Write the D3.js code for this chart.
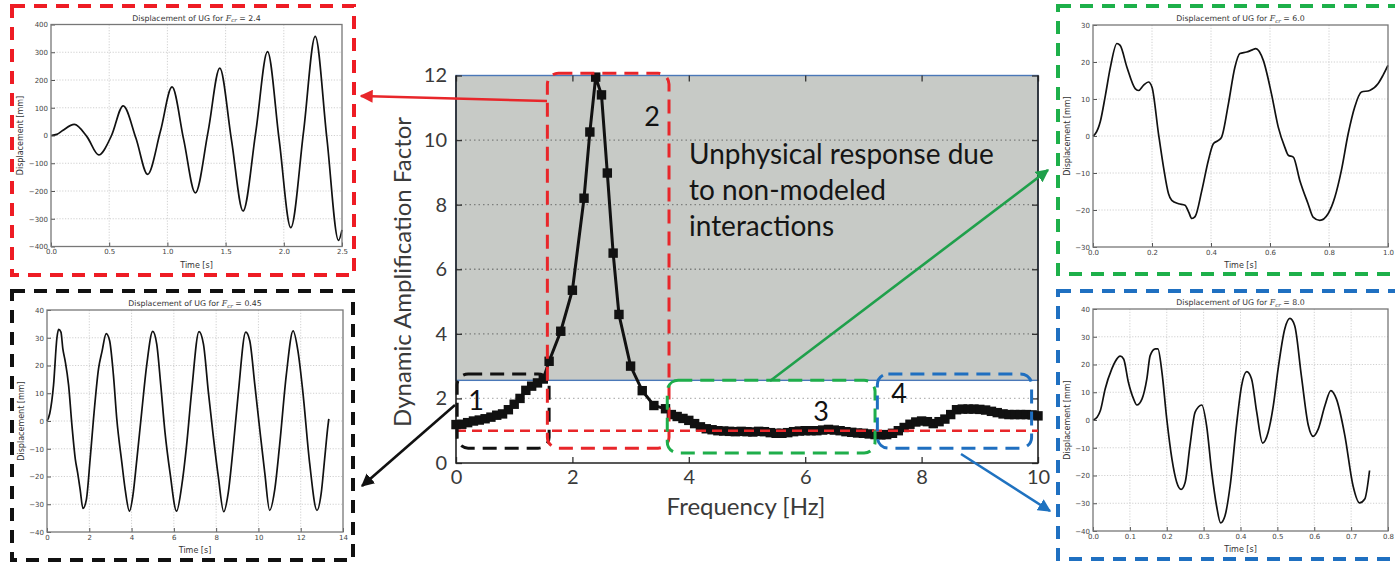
<!DOCTYPE html>
<html>
<head>
<meta charset="utf-8">
<script src="https://cdn.jsdelivr.net/npm/d3@7"></script>
<style>
  body { margin: 0; background: #fff; }
  svg { display: block; }
</style>
</head>
<body>
<svg id="fig" width="1395" height="563"></svg>
<script>
// ---- main chart data ----
const mainFreq = [0.0,0.1,0.2,0.3,0.4,0.5,0.6,0.7,0.8,0.9,1.0,1.1,1.2,1.3,1.4,1.5,1.6,1.8,2.0,2.2,2.3,2.4,2.5,2.6,2.7,2.8,3.0,3.2,3.4,3.6,
  3.7,3.8,3.9,4.0,4.1,4.2,4.3,4.4,4.5,4.6,4.7,4.8,4.9,5.0,5.1,5.2,5.3,5.4,5.5,5.6,5.7,5.8,5.9,6.0,6.1,6.2,6.3,6.4,6.5,6.6,6.7,6.8,6.9,7.0,
  7.1,7.2,7.3,7.4,7.5,7.6,7.7,7.8,7.9,8.0,8.1,8.2,8.3,8.4,8.5,8.6,8.7,8.8,8.9,9.0,9.1,9.2,9.3,9.4,9.5,9.6,9.7,9.8,9.9,10.0];
const mainDaf = [1.19,1.2,1.25,1.3,1.33,1.37,1.42,1.48,1.52,1.65,1.82,2.0,2.25,2.38,2.48,2.6,3.15,4.08,5.35,8.2,10.25,11.95,11.4,8.98,6.5,4.6,3.0,2.24,1.78,1.68,
  1.5,1.44,1.38,1.32,1.22,1.12,1.06,1.03,1.0,0.99,0.98,0.97,0.98,0.97,0.96,0.98,0.97,0.94,0.92,0.92,0.94,0.97,0.99,1.0,1.0,1.0,1.02,1.04,1.02,1.0,0.97,0.95,0.93,0.92,
  0.9,0.88,0.87,0.88,0.92,1.0,1.1,1.2,1.27,1.3,1.28,1.22,1.28,1.36,1.5,1.65,1.67,1.67,1.67,1.66,1.64,1.6,1.56,1.52,1.5,1.5,1.5,1.5,1.49,1.46];
const mainXTicks = [0, 2, 4, 6, 8, 10];
const mainYTicks = [0, 2, 4, 6, 8, 10, 12];
const grayFloor = 2.56;      // lower edge of the shaded "unphysical" band
const unityLevel = 1.0;      // red dashed reference line

// marked regions [f0, f1, v0, v1]
const regionNames = ['1', '2', '3', '4'];
const regionBoxes = [[0.02, 1.6, 0.46, 2.76], [1.57, 3.66, 0.46, 12.07], [3.63, 7.2, 0.31, 2.56], [7.24, 9.89, 0.46, 2.76]];
const regionColors = ['#111111', '#e8262a', '#1fae4b', '#1f6fc0'];

// ---- inset time histories (key points) ----
const t24 = [0,0.05,0.1,0.2,0.31,0.41,0.52,0.62,0.73,0.83,0.94,1.04,1.14,1.24,1.35,1.45,1.55,1.65,1.76,1.86,1.96,2.06,2.17,2.27,2.37,2.47,2.5];
const d24 = [0,4,18,40,-5,-70,0,107,-10,-140,15,175,-15,-207,15,243,-15,-272,15,302,-15,-332,15,357,-10,-378,-340];

const t045 = [0,0.13,0.31,0.47,0.55,0.66,0.75,0.86,1.02,1.18,1.34,1.45,1.57,1.7,1.86,2.04,2.2,2.44,2.6,2.8,2.96,3.14,3.3,3.54,3.7,3.9,4.06,4.25,4.48,4.72,
  5.0,5.19,5.38,5.58,5.82,6.13,6.37,6.6,6.84,7.19,7.4,7.63,7.86,8.1,8.36,8.57,8.8,9.04,9.4,9.59,9.83,10.06,10.3,10.53,10.77,11.0,11.32,11.64,11.87,12.1,12.42,12.77,12.97,13.13,13.29,13.33];
const d045 = [0,2.7,13,30,33,32,26,21.6,13,-1.6,-13.8,-18.7,-24.8,-31.5,-28.4,-13.8,0.8,19,25,31.5,29,16.7,0.8,-15,-24.8,-32.5,-27,-13.8,3.3,20.4,
  32.3,27.7,13,-4,-18.7,-32.5,-23.5,-8.9,10.6,32.2,27.7,10.6,-5.2,-19.9,-32.7,-26,-10,9.4,32,28.9,13,-2.8,-18.7,-32.2,-24.8,-8.9,16.7,32.5,25.2,10.6,-15,-32.2,-26,-13.8,-1.6,0.8];

const t60 = [0,0.008,0.025,0.042,0.059,0.081,0.092,0.115,0.143,0.154,0.171,0.188,0.2,0.222,0.239,0.256,0.267,0.29,0.312,0.324,0.335,0.346,0.369,0.391,0.408,0.425,0.436,0.459,0.481,0.498,
  0.521,0.538,0.552,0.577,0.605,0.628,0.65,0.662,0.679,0.701,0.729,0.746,0.769,0.797,0.82,0.842,0.865,0.887,0.91,0.938,0.966,0.983,1.0];
const d60 = [0,0.6,4,11,18.6,25,24.5,18.6,12.8,12.3,13.7,14.6,13.2,0.6,-8.4,-15.6,-17.4,-18.3,-18.7,-20.5,-22.3,-21.8,-14.7,-6.6,-2.1,-1.2,-0.3,8.7,18.6,22.3,
  22.7,23.2,23.6,20.5,11.4,2.4,-3,-5.2,-5.7,-12,-18.3,-21.9,-22.8,-21,-16.5,-9.3,0.6,7.8,11.9,12.3,14.1,16.4,19.1];

const t80 = [0,0.011,0.02,0.033,0.051,0.06,0.074,0.083,0.096,0.11,0.119,0.133,0.146,0.155,0.169,0.176,0.187,0.2,0.214,0.227,0.239,0.25,0.263,0.277,0.295,0.308,0.322,0.335,0.346,0.358,
  0.372,0.39,0.403,0.417,0.43,0.444,0.46,0.475,0.489,0.502,0.52,0.534,0.547,0.565,0.584,0.597,0.611,0.629,0.645,0.66,0.683,0.705,0.723,0.737,0.75];
const d80 = [0,1,3.4,11.2,18.4,21,23,22,13.6,7.6,5.4,7.6,14.8,23.2,25.6,25.6,17.2,0.4,-14,-22.4,-25,-22.4,-9.2,2.8,5.4,-2,-18.8,-30.9,-37.1,-34.5,
  -23.6,-0.8,12.4,17.4,14.8,2.8,-8.3,-4.4,5.2,18.4,32.8,36.6,34,16,-2,-5.9,-3.2,5.2,10.6,7.6,-5.6,-23.6,-29.9,-28.5,-18.2];

// inset tick values and labels
const ticks24X = [0, 0.5, 1.0, 1.5, 2.0, 2.5], ticks24Y = [-400,-300,-200,-100,0,100,200,300,400];
const ticks045X = [0,2,4,6,8,10,12,14], ticks045Y = [-40,-30,-20,-10,0,10,20,30,40];
const ticks60X = [0,0.2,0.4,0.6,0.8,1.0], ticks60Y = [-30,-20,-10,0,10,20,30];
const ticks80X = [0,0.1,0.2,0.3,0.4,0.5,0.6,0.7,0.8], ticks80Y = [-40,-30,-20,-10,0,10,20,30,40];

const svg = d3.select('#fig');
const minus = s => s.replace('-', '\u2212');

// ================= main chart =================
const x = d3.scaleLinear().domain([0, 10]).range([456, 1038]);
const y = d3.scaleLinear().domain([0, 12]).range([463, 75.5]);
const main = svg.append('g');

// shaded band
main.append('rect')
  .attr('x', x(0)).attr('y', y(12))
  .attr('width', x(10) - x(0)).attr('height', y(grayFloor) - y(12))
  .attr('fill', '#c7cac6');

// dotted grid
main.selectAll('.hgrid')
  .data(mainYTicks.filter(v => v > 0 && v < 12))
  .enter().append('line')
  .attr('x1', x(0)).attr('x2', x(10))
  .attr('y1', d => y(d)).attr('y2', d => y(d))
  .attr('stroke', d => d > grayFloor ? '#7d7f7d' : '#b5b5b5')
  .attr('stroke-width', 1.3)
  .attr('stroke-dasharray', '1.5 3');

// band outline (blue)
main.append('rect')
  .attr('x', x(0)).attr('y', y(12))
  .attr('width', x(10) - x(0)).attr('height', y(grayFloor) - y(12))
  .attr('fill', 'none').attr('stroke', '#4a78b8').attr('stroke-width', 1.4);

// axes with inward ticks
const axB = main.append('g').attr('transform', `translate(0,${y(0)})`)
  .call(d3.axisBottom(x).tickValues(mainXTicks).tickFormat(d3.format('d')).tickSizeInner(-6).tickSizeOuter(0).tickPadding(7));
const axL = main.append('g').attr('transform', `translate(${x(0)},0)`)
  .call(d3.axisLeft(y).tickValues(mainYTicks).tickFormat(d3.format('d')).tickSizeInner(-6).tickSizeOuter(0).tickPadding(9));
const axT = main.append('g').attr('transform', `translate(0,${y(12)})`)
  .call(d3.axisTop(x).tickValues(mainXTicks).tickFormat('').tickSizeInner(-6).tickSizeOuter(0));
const axR = main.append('g').attr('transform', `translate(${x(10)},0)`)
  .call(d3.axisRight(y).tickValues(mainYTicks).tickFormat('').tickSizeInner(-6).tickSizeOuter(0));
[axB, axL, axT, axR].forEach(a => {
  a.select('.domain').remove();
  a.selectAll('line').attr('stroke', '#333').attr('stroke-width', 1.3);
  a.selectAll('text').attr('fill', '#3a3a3a').style('font-family', 'Lato, sans-serif').style('font-size', '20px');
});

// frame (left, bottom, right)
main.append('path')
  .attr('d', `M${x(0)},${y(12)}V${y(0)}H${x(10)}V${y(12)}`)
  .attr('fill', 'none').attr('stroke', '#222').attr('stroke-width', 1.6);

// response curve with square markers
const pts = mainFreq.map((f, i) => [f, mainDaf[i]]);
main.append('path')
  .datum(pts)
  .attr('fill', 'none').attr('stroke', '#111').attr('stroke-width', 3)
  .attr('d', d3.line().x(d => x(d[0])).y(d => y(d[1])));
main.selectAll('.mk')
  .data(pts).enter().append('rect')
  .attr('x', d => x(d[0]) - 4.7).attr('y', d => y(d[1]) - 4.7)
  .attr('width', 9.4).attr('height', 9.4).attr('fill', '#111');

// red unity line (drawn over the curve, as in the figure)
main.append('line')
  .attr('x1', x(0)).attr('x2', x(10))
  .attr('y1', y(unityLevel)).attr('y2', y(unityLevel))
  .attr('stroke', '#e8262a').attr('stroke-width', 2.6).attr('stroke-dasharray', '10 6');

// dashed region boxes
main.selectAll('.region')
  .data(regionBoxes).enter().append('rect')
  .attr('x', d => x(d[0])).attr('y', d => y(d[3]))
  .attr('width', d => x(d[1]) - x(d[0])).attr('height', d => y(d[2]) - y(d[3]))
  .attr('rx', 11).attr('ry', 11)
  .attr('fill', 'none')
  .attr('stroke', (d, i) => regionColors[i])
  .attr('stroke-width', 3)
  .attr('stroke-dasharray', '14 8');

// region numbers
const numPos = [[476, 410], [652, 126], [821, 421], [899, 403]];
main.selectAll('.num')
  .data(regionNames).enter().append('text')
  .attr('x', (d, i) => numPos[i][0]).attr('y', (d, i) => numPos[i][1])
  .attr('text-anchor', 'middle')
  .style('font-family', 'Lato, sans-serif').style('font-size', '27px').attr('fill', '#111')
  .text(d => d);

// annotation text
const note = ['Unphysical response due', 'to non-modeled', 'interactions'];
main.selectAll('.note')
  .data(note).enter().append('text')
  .attr('x', 689).attr('y', (d, i) => 164 + i * 36)
  .style('font-family', 'Lato, sans-serif').style('font-size', '28px').attr('fill', '#151515')
  .text(d => d);

// axis titles
main.append('text')
  .attr('x', 746).attr('y', 515).attr('text-anchor', 'middle')
  .style('font-family', 'Lato, sans-serif').style('font-size', '24px').attr('fill', '#3a3a3a')
  .text('Frequency [Hz]');
main.append('text')
  .attr('transform', 'translate(411,272) rotate(-90)').attr('text-anchor', 'middle')
  .style('font-family', 'Lato, sans-serif').style('font-size', '24px').attr('fill', '#3a3a3a')
  .text('Dynamic Amplification Factor');

// ================= arrows =================
const defs = svg.append('defs');
const arrowColors = { red: '#e8262a', black: '#111111', green: '#1fa04b', blue: '#1f72c0' };
Object.entries(arrowColors).forEach(([k, c]) => {
  defs.append('marker').attr('id', 'ah-' + k)
    .attr('viewBox', '0 0 10 10').attr('refX', 9).attr('refY', 5)
    .attr('markerWidth', 5).attr('markerHeight', 5).attr('orient', 'auto')
    .append('path').attr('d', 'M0,0L10,5L0,10Z').attr('fill', c);
});
const arrows = [
  ['red', 547, 101, 361, 96],
  ['black', 455, 405, 362, 486],
  ['green', 770, 381, 1048, 170],
  ['blue', 961, 454, 1050, 511]
];
svg.selectAll('.arrow').data(arrows).enter().append('line')
  .attr('x1', d => d[1]).attr('y1', d => d[2]).attr('x2', d => d[3]).attr('y2', d => d[4])
  .attr('stroke', d => arrowColors[d[0]]).attr('stroke-width', 2.6)
  .attr('marker-end', d => `url(#ah-${d[0]})`);

// ================= insets =================
function drawInset(cfg) {
  const g = svg.append('g');
  const ix = d3.scaleLinear().domain(cfg.xDomain).range([cfg.left, cfg.right]);
  const iy = d3.scaleLinear().domain(cfg.yDomain).range([cfg.bottom, cfg.top]);

  // dashed frame around the inset
  g.append('rect')
    .attr('x', cfg.box[0]).attr('y', cfg.box[1])
    .attr('width', cfg.box[2] - cfg.box[0]).attr('height', cfg.box[3] - cfg.box[1])
    .attr('fill', 'none').attr('stroke', cfg.color).attr('stroke-width', 4)
    .attr('stroke-dasharray', '13 9');

  // grid
  g.selectAll('.vg').data(cfg.xTicks.slice(1, -1)).enter().append('line')
    .attr('x1', d => ix(d)).attr('x2', d => ix(d)).attr('y1', cfg.top).attr('y2', cfg.bottom)
    .attr('stroke', '#c4c4c4').attr('stroke-width', 0.8).attr('stroke-dasharray', '1.2 1.6');
  g.selectAll('.hg').data(cfg.yTicks.slice(1, -1)).enter().append('line')
    .attr('x1', cfg.left).attr('x2', cfg.right).attr('y1', d => iy(d)).attr('y2', d => iy(d))
    .attr('stroke', '#c4c4c4').attr('stroke-width', 0.8).attr('stroke-dasharray', '1.2 1.6');

  // time history
  const data = cfg.t.map((t, i) => [t, cfg.d[i]]);
  g.append('path').datum(data)
    .attr('fill', 'none').attr('stroke', '#111').attr('stroke-width', 1.7)
    .attr('stroke-linejoin', 'round')
    .attr('d', d3.line().x(d => ix(d[0])).y(d => iy(d[1])).curve(d3.curveMonotoneX));

  // axes
  const bx = g.append('g').attr('transform', `translate(0,${cfg.bottom})`)
    .call(d3.axisBottom(ix).tickValues(cfg.xTicks).tickFormat(cfg.xFmt).tickSizeInner(-4).tickSizeOuter(0).tickPadding(3));
  const ly = g.append('g').attr('transform', `translate(${cfg.left},0)`)
    .call(d3.axisLeft(iy).tickValues(cfg.yTicks).tickFormat(v => minus(String(v))).tickSizeInner(-4).tickSizeOuter(0).tickPadding(3));
  [bx, ly].forEach(a => {
    a.select('.domain').remove();
    a.selectAll('line').attr('stroke', '#555');
    a.selectAll('text').attr('fill', '#444').style('font-family', 'DejaVu Sans, sans-serif').style('font-size', '7px');
  });
  g.append('rect')
    .attr('x', cfg.left).attr('y', cfg.top)
    .attr('width', cfg.right - cfg.left).attr('height', cfg.bottom - cfg.top)
    .attr('fill', 'none').attr('stroke', '#777').attr('stroke-width', 1.3);

  // labels
  const title = g.append('text')
    .attr('x', (cfg.left + cfg.right) / 2).attr('y', cfg.top - 4).attr('text-anchor', 'middle')
    .style('font-family', 'DejaVu Sans, sans-serif').style('font-size', '7.8px').attr('fill', '#333');
  title.append('tspan').text('Displacement of UG for ');
  title.append('tspan').style('font-style', 'italic').style('font-family', 'DejaVu Serif, serif').text('F');
  title.append('tspan').attr('dy', 1.8).style('font-size', '5.5px').style('font-style', 'italic').style('font-family', 'DejaVu Serif, serif').text('cr');
  title.append('tspan').attr('dy', -1.8).text(' = ' + cfg.label);

  g.append('text')
    .attr('x', (cfg.left + cfg.right) / 2).attr('y', cfg.bottom + 21).attr('text-anchor', 'middle')
    .style('font-family', 'DejaVu Sans, sans-serif').style('font-size', '8px').attr('fill', '#333')
    .text('Time [s]');
  g.append('text')
    .attr('transform', `translate(${cfg.left - cfg.ylabOff},${(cfg.top + cfg.bottom) / 2}) rotate(-90)`)
    .attr('text-anchor', 'middle')
    .style('font-family', 'DejaVu Sans, sans-serif').style('font-size', '8px').attr('fill', '#333')
    .text('Displacement [mm]');
}

drawInset({ t: t24, d: d24, label: '2.4', color: '#ee1c24', box: [12, 6, 354, 275],
  left: 51, right: 342, top: 24.5, bottom: 246.5, xDomain: [0, 2.5], yDomain: [-400, 400],
  xTicks: ticks24X, yTicks: ticks24Y, xFmt: d3.format('.1f'), ylabOff: 28 });
drawInset({ t: t045, d: d045, label: '0.45', color: '#111111', box: [12, 291, 353, 560],
  left: 47, right: 343, top: 310, bottom: 532, xDomain: [0, 14], yDomain: [-40, 40],
  xTicks: ticks045X, yTicks: ticks045Y, xFmt: d3.format('d'), ylabOff: 23 });
drawInset({ t: t60, d: d60, label: '6.0', color: '#1db04a', box: [1058, 6, 1398, 274],
  left: 1093, right: 1388, top: 25, bottom: 247, xDomain: [0, 1.0], yDomain: [-30, 30],
  xTicks: ticks60X, yTicks: ticks60Y, xFmt: d3.format('.1f'), ylabOff: 23 });
drawInset({ t: t80, d: d80, label: '8.0', color: '#1f70c1', box: [1058, 291, 1398, 559],
  left: 1093, right: 1388, top: 309, bottom: 531, xDomain: [0, 0.8], yDomain: [-40, 40],
  xTicks: ticks80X, yTicks: ticks80Y, xFmt: d3.format('.1f'), ylabOff: 23 });
</script>
</body>
</html>
